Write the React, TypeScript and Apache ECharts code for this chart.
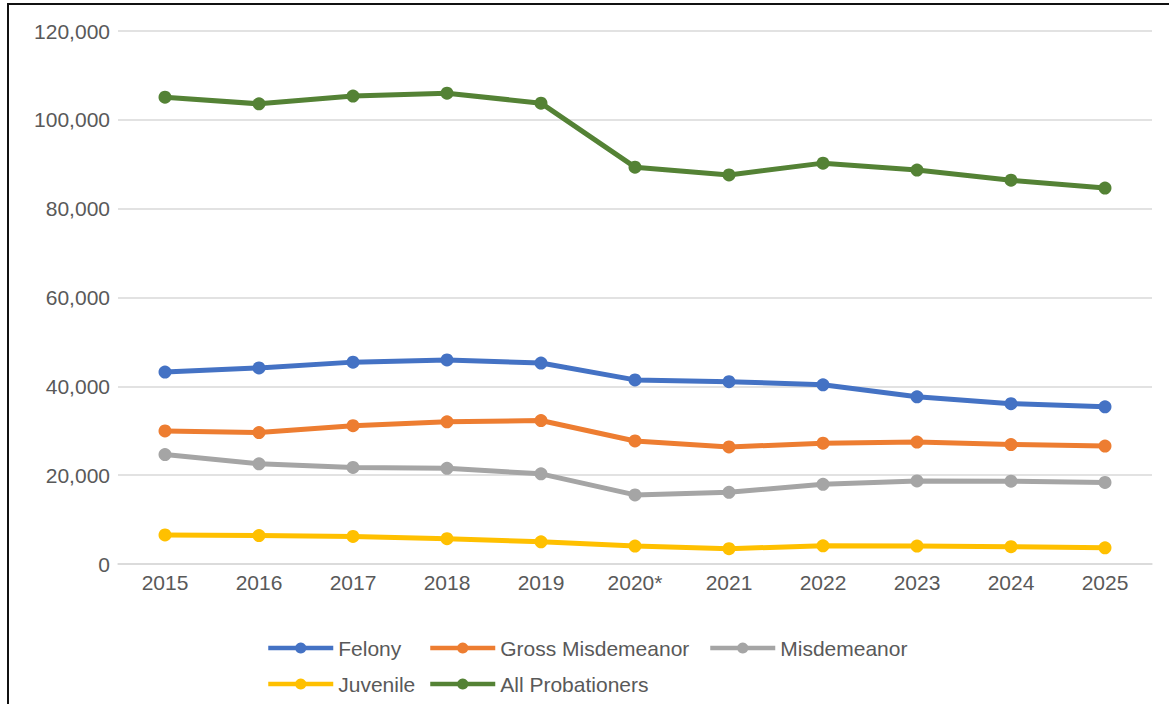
import React, { useEffect, useRef } from "react";
import * as echarts from "echarts";

const years = ["2015", "2016", "2017", "2018", "2019", "2020*", "2021", "2022", "2023", "2024", "2025"];
const felony = [43200, 44150, 45450, 45950, 45250, 41450, 41050, 40350, 37650, 36100, 35400];
const grossMisdemeanor = [29950, 29600, 31150, 32000, 32300, 27700, 26350, 27200, 27450, 26900, 26550];
const misdemeanor = [24650, 22550, 21750, 21550, 20300, 15550, 16150, 17950, 18700, 18650, 18350];
const juvenile = [6550, 6400, 6200, 5700, 5000, 4050, 3450, 4100, 4050, 3900, 3650];
const allProbationers = [105100, 103600, 105350, 106000, 103750, 89350, 87600, 90250, 88700, 86400, 84650];
const yTicks = [0, 20000, 40000, 60000, 80000, 100000, 120000];

const seriesDefs = [
  { name: "Felony", data: felony, color: "#4472C4" },
  { name: "Gross Misdemeanor", data: grossMisdemeanor, color: "#ED7D31" },
  { name: "Misdemeanor", data: misdemeanor, color: "#A5A5A5" },
  { name: "Juvenile", data: juvenile, color: "#FFC000" },
  { name: "All Probationers", data: allProbationers, color: "#548235" },
];

const FONT = "'Liberation Sans', Arial, sans-serif";

export default function App() {
  const ref = useRef<HTMLDivElement>(null);
  useEffect(() => {
    if (!ref.current) return;
    const chart = echarts.init(ref.current, undefined, { renderer: "svg" });
    const legendBase = {
      orient: "vertical",
      top: 636,
      padding: 0,
      itemGap: 12,
      itemWidth: 65,
      itemHeight: 14,
      lineStyle: { width: 4.5 },
      textStyle: { fontFamily: FONT, fontSize: 21, color: "#595959", lineHeight: 24 },
    };
    chart.setOption({
      animation: false,
      textStyle: { fontFamily: FONT },
      grid: { left: 118, right: 17, top: 31, bottom: 140, containLabel: false },
      legend: [
        { ...legendBase, left: 266, data: ["Felony", "Juvenile"] },
        { ...legendBase, left: 428, data: ["Gross Misdemeanor", "All Probationers"] },
        { ...legendBase, left: 708, data: ["Misdemeanor"] },
      ],
      xAxis: {
        type: "category",
        data: years,
        boundaryGap: true,
        axisLine: { show: true, lineStyle: { color: "#D9D9D9", width: 1.5 } },
        axisTick: { show: false },
        axisLabel: { fontFamily: FONT, fontSize: 21, color: "#595959", margin: 8 },
      },
      yAxis: {
        type: "value",
        min: 0,
        max: 120000,
        interval: 20000,
        axisLine: { show: false },
        axisTick: { show: false },
        splitLine: { lineStyle: { color: "#D9D9D9", width: 1.5 } },
        axisLabel: {
          fontFamily: FONT,
          fontSize: 21,
          color: "#595959",
          margin: 8,
          formatter: (v: number) => (yTicks.includes(v) ? v.toLocaleString("en-US") : ""),
        },
      },
      series: seriesDefs.map((s) => ({
        name: s.name,
        type: "line",
        data: s.data,
        symbol: "circle",
        symbolSize: 13,
        color: s.color,
        lineStyle: { color: s.color, width: 5 },
        itemStyle: { color: s.color },
        z: 2,
      })),
    });
    return () => chart.dispose();
  }, []);
  return (
    <div style={{ position: "absolute", left: 0, top: 0, width: 1169, height: 704, overflow: "hidden", background: "#fff" }}>
      <div
        style={{
          position: "absolute",
          left: 7,
          top: 3,
          width: 1300,
          height: 900,
          border: "2px solid #111",
          boxSizing: "border-box",
        }}
      />
      <div ref={ref} style={{ position: "absolute", left: 0, top: 0, width: 1169, height: 704 }} />
    </div>
  );
}
